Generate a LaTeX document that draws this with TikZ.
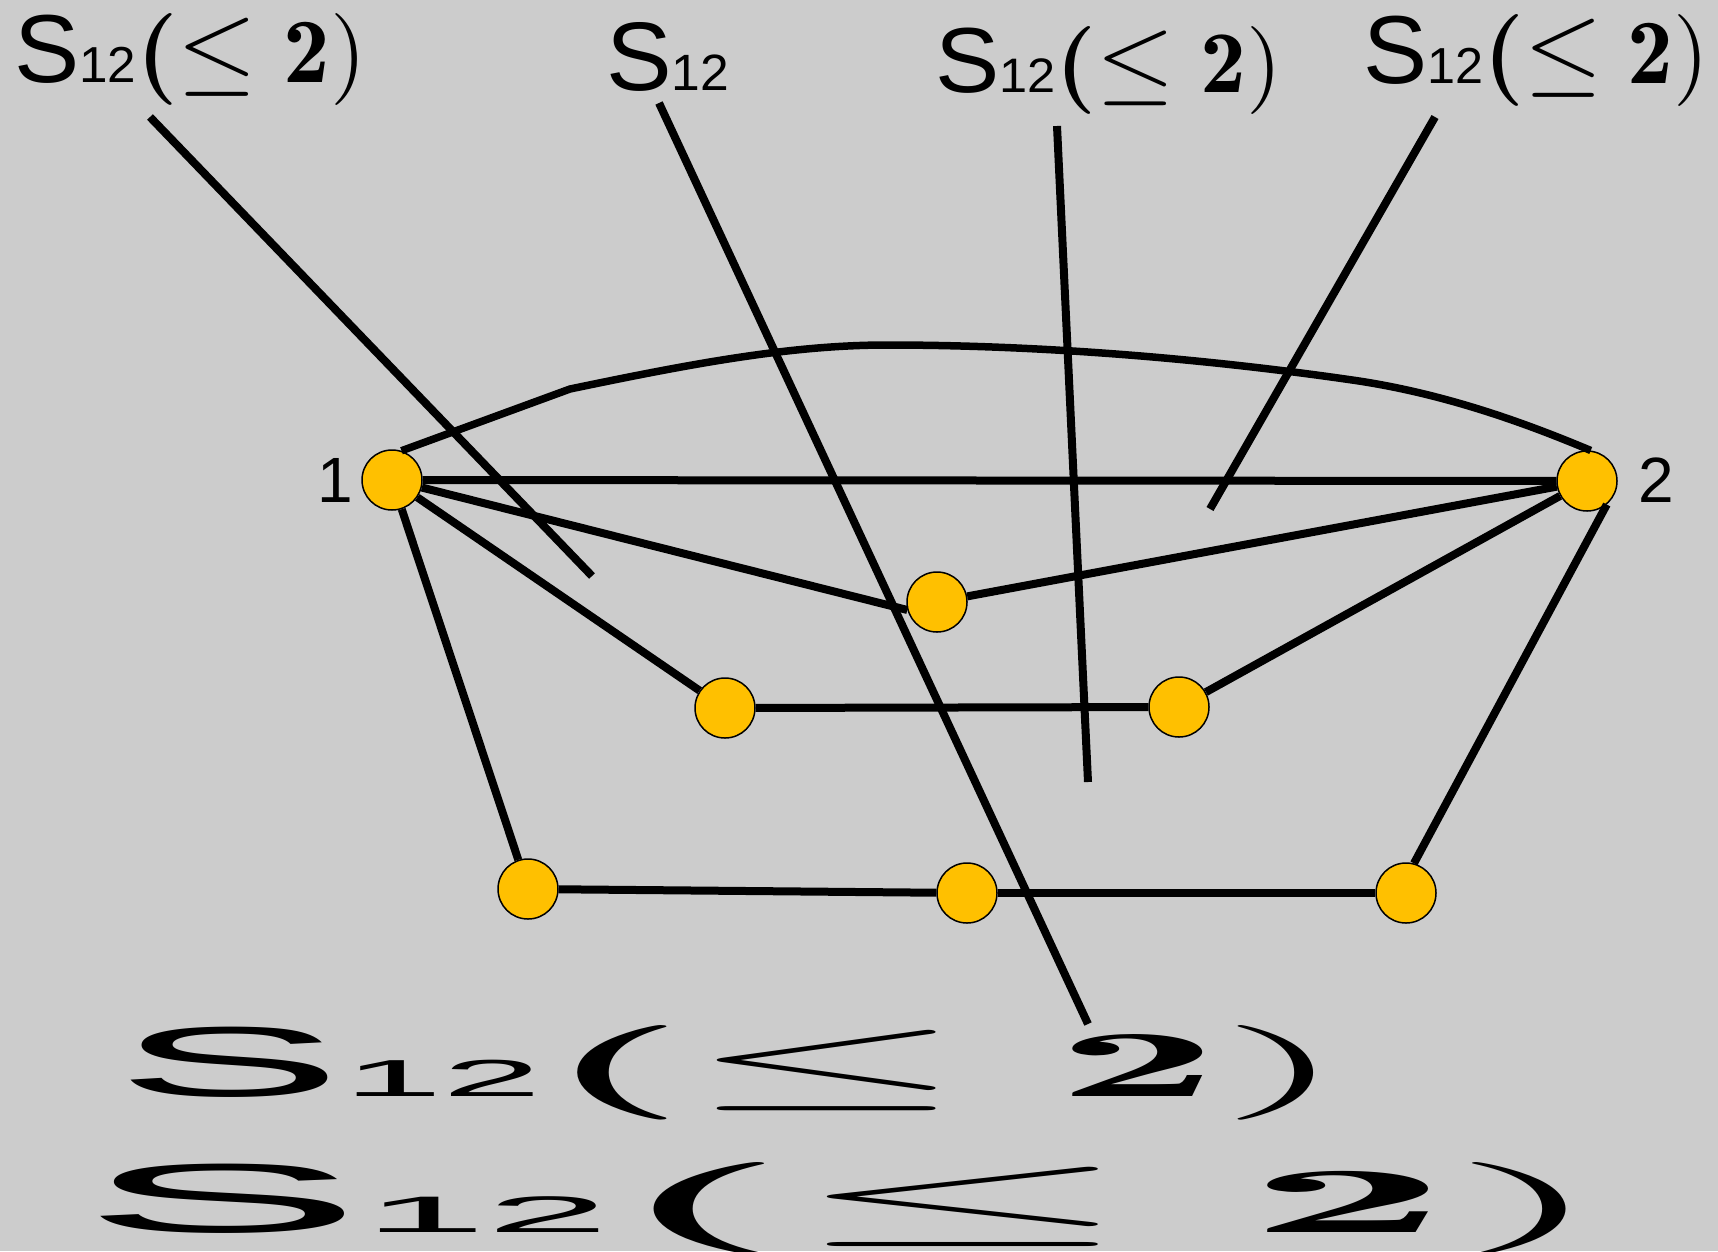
\documentclass[tikz,border=0pt]{standalone}
\usepackage{amsmath}
\usepackage{graphicx}
\usepackage{fontspec}
\newfontfamily\arialf{Liberation Sans}
\definecolor{bgc}{HTML}{CCCCCC}
\definecolor{vfill}{HTML}{FFC000}
\newcommand\Sonly{{\arialf\fontsize{10.5}{12}\selectfont S\fontsize{5.5}{6}\selectfont 12}}
\newcommand\Slabel{\Sonly$\mathopen{\boldsymbol{(}}\mathrel{\scalebox{1.1}{$\leq$}}\mathbf{2})$}
\begin{document}
\begin{tikzpicture}[x=1pt,y=-1pt,
  vtx/.style={circle, fill=vfill, draw=black, line width=1.5pt, minimum size=60pt, inner sep=0pt},
  edge/.style={line width=8pt},
  lab/.style={inner sep=0pt, anchor=base west},
  num/.style={font=\arialf\fontsize{64}{64}\selectfont, inner sep=0pt}]
\fill[bgc] (0,0) rectangle (1718,1251);
\useasboundingbox (0,0) rectangle (1718,1251);
\clip (0,0) rectangle (1718,1251);

% vertices
\node[vtx] (n1) at (392,480) {};
\node[vtx] (n2) at (1587,481) {};
\node[vtx] (m) at (937,602) {};
\node[vtx] (a) at (725,708) {};
\node[vtx] (b) at (1179,707) {};
\node[vtx] (c) at (528,889) {};
\node[vtx] (d) at (967,893) {};
\node[vtx] (e) at (1406,893) {};

\node[num] (t1) at (335,480) {1};
\node[num] (t2) at (1656,480) {2};

% edges
\draw[edge] (n1) -- (n2);
\draw[edge] (n1) -- (m.195);
\draw[edge] (m) -- (n2);
\draw[edge] (n1) -- (a);
\draw[edge] (a) -- (b);
\draw[edge] (b) -- (n2);
\draw[edge] (n1) -- (c);
\draw[edge] (c) -- (d);
\draw[edge] (d) -- (e);
\draw[edge] (n2.-50) -- (e.75);
\draw[line width=7.5pt] (n1.72) -- (570,389)
  .. controls (690,364) and (790,345) .. (887,345)
  .. controls (1060,345) and (1230,362) .. (1359,381)
  .. controls (1450,395) and (1530,425) .. (n2.83);

% labels
\node[lab] (L1) at (14,82) {\resizebox{352pt}{69pt}{\Slabel}};
\node[lab] (L2) at (606,90) {\resizebox{123pt}{68pt}{\Sonly}};
\node[lab] (L3) at (935,92) {\resizebox{347pt}{66pt}{\Slabel}};
\node[lab] (L4) at (1363,83) {\resizebox{346pt}{69pt}{\Slabel}};
\node[lab] (B1) at (115,1096) {\resizebox{1229pt}{71pt}{\Slabel}};
\node[lab] (B2) at (81,1232) {\resizebox{1522pt}{70pt}{\Slabel}};

% label lines
\coordinate (l1s) at (150,117); \coordinate (l1e) at (592,576);
\coordinate (l2s) at (659,103); \coordinate (l2e) at (1088,1024);
\coordinate (l3s) at (1057,126); \coordinate (l3e) at (1088,782);
\coordinate (l4s) at (1435,117); \coordinate (l4e) at (1210,509);
\draw[edge] (l1s) -- (l1e);
\draw[edge] (l2s) -- (l2e);
\draw[edge] (l3s) -- (l3e);
\draw[edge] (l4s) -- (l4e);
\end{tikzpicture}
\end{document}
